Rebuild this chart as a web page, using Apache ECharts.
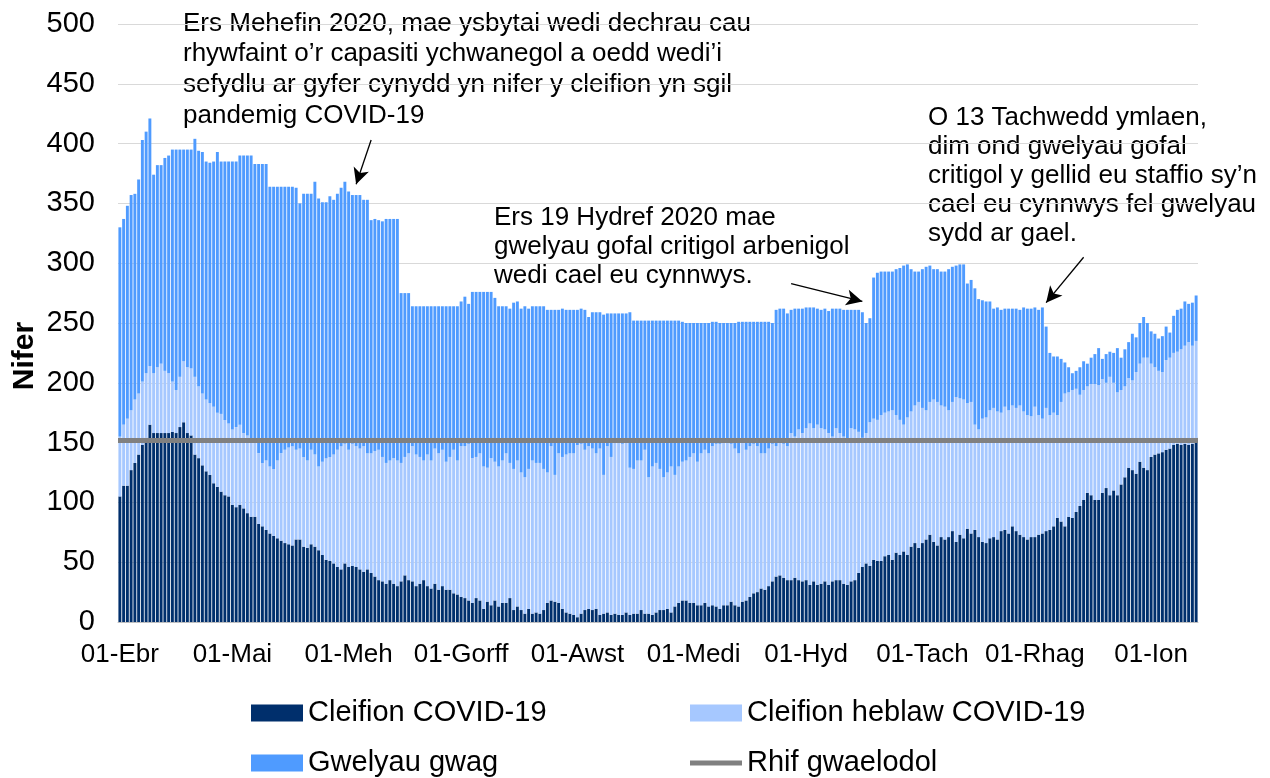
<!DOCTYPE html>
<html>
<head>
<meta charset="utf-8">
<script src="https://cdn.jsdelivr.net/npm/echarts@6/dist/echarts.min.js"></script>
<style>
  html, body { margin: 0; padding: 0; background: #fff; }
  #chart { width: 1270px; height: 778px; }
</style>
</head>
<body>
<div id="chart"></div>
<script>
// Welsh month abbreviations, day 0 = 01-Ebr 2020
const monthNames = ['Ion', 'Chwef', 'Maw', 'Ebr', 'Mai', 'Meh', 'Gorff', 'Awst', 'Medi', 'Hyd', 'Tach', 'Rhag']

// Cleifion COVID-19
const covid = [
  105, 114, 114, 127, 133, 140, 148, 154, 165, 158,
  158, 158, 158, 158, 159, 158, 163, 167, 158, 156,
  140, 137, 131, 126, 123, 116, 113, 109, 106, 105,
  98, 96, 98, 95, 91, 88, 88, 82, 80, 77,
  74, 72, 70, 68, 66, 65, 64, 69, 69, 63,
  62, 65, 63, 60, 56, 52, 51, 49, 46, 44,
  49, 46, 47, 46, 44, 42, 44, 41, 38, 35,
  34, 32, 35, 32, 30, 34, 39, 35, 34, 30,
  32, 35, 30, 28, 32, 27, 30, 27, 27, 24,
  23, 21, 20, 18, 16, 20, 18, 11, 17, 14,
  18, 13, 16, 16, 20, 10, 13, 10, 7, 11,
  7, 8, 7, 10, 16, 18, 17, 16, 11, 8,
  7, 6, 4, 7, 10, 11, 10, 11, 6, 7,
  8, 6, 7, 6, 6, 8, 6, 7, 7, 10,
  7, 7, 6, 8, 10, 10, 11, 8, 13, 16,
  18, 18, 16, 16, 14, 14, 16, 13, 14, 13,
  11, 14, 14, 17, 14, 13, 17, 18, 21, 24,
  25, 28, 27, 30, 34, 38, 39, 37, 35, 35,
  37, 35, 34, 35, 31, 34, 31, 32, 34, 31,
  34, 35, 35, 32, 31, 34, 35, 41, 46, 49,
  47, 52, 51, 51, 55, 56, 52, 58, 56, 59,
  56, 63, 66, 62, 66, 69, 73, 67, 64, 71,
  69, 71, 76, 67, 73, 70, 78, 74, 77, 71,
  67, 66, 70, 71, 69, 76, 77, 74, 80, 76,
  73, 71, 69, 71, 71, 73, 74, 76, 77, 80,
  87, 84, 80, 88, 87, 92, 97, 102, 108, 106,
  102, 102, 108, 112, 106, 110, 106, 115, 121, 129,
  127, 124, 134, 129, 127, 138, 140, 141, 142, 144,
  145, 148, 149, 148, 149, 148, 149, 154
]

// Cleifion heblaw COVID-19
const nonCovid = [
  50, 51, 56, 50, 53, 51, 53, 54, 49, 50,
  55, 58, 52, 50, 42, 36, 42, 51, 55, 56,
  65, 60, 60, 60, 60, 64, 62, 65, 63, 61,
  63, 67, 67, 63, 65, 64, 62, 59, 53, 58,
  56, 56, 65, 73, 78, 81, 83, 75, 76, 75,
  73, 79, 77, 70, 78, 85, 87, 91, 98, 103,
  100, 98, 102, 101, 101, 105, 97, 100, 105, 109,
  104, 101, 100, 105, 105, 99, 99, 106, 113, 110,
  106, 100, 110, 107, 113, 114, 114, 107, 111, 120,
  112, 126, 127, 131, 121, 118, 123, 119, 112, 123,
  116, 117, 119, 125, 113, 118, 122, 115, 114, 117,
  128, 125, 126, 118, 109, 129, 106, 125, 127, 132,
  134, 135, 144, 142, 134, 136, 135, 130, 139, 116,
  139, 132, 144, 145, 143, 142, 123, 121, 128, 125,
  137, 114, 124, 125, 118, 111, 114, 122, 110, 114,
  116, 117, 122, 125, 120, 127, 128, 128, 133, 136,
  138, 136, 137, 132, 131, 128, 134, 126, 126, 125,
  122, 113, 114, 115, 115, 109, 112, 112, 112, 123,
  118, 126, 124, 127, 135, 128, 134, 130, 127, 127,
  121, 127, 123, 123, 120, 128, 126, 118, 108, 109,
  120, 118, 118, 122, 120, 120, 125, 115, 113, 106,
  115, 113, 115, 122, 113, 108, 111, 119, 120, 110,
  111, 106, 108, 121, 114, 116, 105, 110, 88, 90,
  103, 105, 107, 108, 107, 99, 103, 103, 101, 103,
  108, 105, 104, 101, 109, 100, 96, 103, 96, 95,
  86, 100, 111, 104, 107, 103, 93, 92, 89, 93,
  97, 96, 95, 88, 99, 90, 86, 79, 76, 75,
  75, 85, 82, 92, 94, 78, 73, 69, 67, 75,
  76, 77, 77, 80, 82, 86, 82, 81
]

// Gwelyau gwag
const emptyBeds = [
  175, 172, 178, 180, 172, 179, 202, 202, 207, 166,
  169, 166, 178, 182, 194, 201, 190, 177, 182, 183,
  199, 197, 202, 199, 201, 205, 218, 211, 216, 219,
  224, 222, 225, 232, 234, 238, 233, 242, 250, 248,
  234, 236, 229, 223, 220, 218, 217, 219, 205, 220,
  223, 214, 228, 224, 217, 214, 218, 213, 214, 216,
  219, 216, 208, 210, 212, 206, 212, 195, 194, 192,
  197, 204, 202, 200, 202, 142, 137, 134, 117, 124,
  126, 129, 124, 129, 119, 123, 120, 130, 126, 120,
  129, 121, 125, 117, 139, 138, 135, 146, 147, 139,
  137, 134, 129, 123, 129, 139, 133, 137, 143, 134,
  129, 131, 131, 136, 136, 114, 138, 120, 124, 121,
  120, 120, 113, 113, 117, 108, 114, 118, 114, 134,
  111, 120, 107, 107, 109, 108, 130, 124, 117, 117,
  108, 131, 122, 119, 124, 131, 127, 122, 129, 122,
  117, 115, 112, 109, 116, 109, 106, 109, 104, 102,
  101, 100, 99, 101, 105, 110, 100, 107, 104, 102,
  104, 110, 110, 106, 101, 114, 111, 113, 111, 103,
  107, 101, 104, 101, 97, 101, 97, 99, 101, 102,
  107, 100, 104, 106, 110, 99, 100, 102, 105, 92,
  87, 118, 123, 120, 118, 117, 116, 122, 127, 133,
  128, 119, 112, 109, 116, 120, 114, 109, 111, 112,
  113, 118, 113, 110, 112, 113, 100, 102, 114, 109,
  99, 97, 91, 83, 87, 86, 82, 85, 81, 83,
  80, 87, 89, 90, 83, 88, 93, 68, 52, 47,
  49, 36, 26, 21, 14, 15, 23, 24, 19, 22,
  25, 31, 17, 24, 21, 25, 37, 27, 31, 30,
  39, 29, 34, 34, 29, 27, 28, 27, 30, 28,
  21, 31, 35, 34, 37, 32, 36, 38
]

// Rhif gwaelodol
const baseline = 152

// dyddiadau 01-Ebr 2020 ymlaen
const categories = covid.map((_, i) => {
  const d = new Date(Date.UTC(2020, 3, 1 + i))
  return String(d.getUTCDate()).padStart(2, '0') + '-' + monthNames[d.getUTCMonth()]
})

// annotations: arrow from [dayIndex, value] to [dayIndex, value]
const arrows = [
  { from: [67, 403], to: [63, 366] },
  { from: [179, 283], to: [198, 268] },
  { from: [257, 305], to: [247, 267] }
]

const notes = [
  { x: 183, y: 8, lh: 30.7, text: 'Ers Mehefin 2020, mae ysbytai wedi dechrau cau\nrhywfaint o\u2019r capasiti ychwanegol a oedd wedi\u2019i\nsefydlu ar gyfer cynydd yn nifer y cleifion yn sgil\npandemig COVID-19' },
  { x: 494, y: 203, lh: 29, text: 'Ers 19 Hydref 2020 mae\ngwelyau gofal critigol arbenigol\nwedi cael eu cynnwys.' },
  { x: 928, y: 103, lh: 29, text: 'O 13 Tachwedd ymlaen,\ndim ond gwelyau gofal\ncritigol y gellid eu staffio sy\u2019n\ncael eu cynnwys fel gwelyau\nsydd ar gael.' }
]

const font = '"Liberation Sans", Arial, sans-serif'
const isMonthStart = (index, value) => value.indexOf('01-') === 0

// one legend per item, laid out 2 x 2
const legendItem = (name, left, top, icon) => ({
  left: left, top: top, orient: 'horizontal',
  itemWidth: 52, itemHeight: 17, icon: icon,
  textStyle: { fontSize: 29, color: '#000', lineHeight: 30, fontFamily: font },
  selectedMode: false,
  data: [name]
})

const chart = echarts.init(document.getElementById('chart'))

const option = {
  animation: false,
  textStyle: { fontFamily: font },
  grid: { left: 118, right: 72, top: 24, bottom: 156 },
  legend: [
    legendItem('Cleifion COVID-19', 246, 693, 'rect'),
    legendItem('Gwelyau gwag', 246, 743, 'rect'),
    legendItem('Cleifion heblaw COVID-19', 685, 693, 'rect'),
    legendItem('Rhif gwaelodol', 685, 743, 'path://M0,0 L52,0 L52,5 L0,5 Z')
  ],
  xAxis: {
    type: 'category',
    data: categories,
    axisLine: { lineStyle: { color: '#bfbfbf' } },
    axisTick: { alignWithLabel: true, interval: isMonthStart, length: 6, lineStyle: { color: '#bfbfbf' } },
    axisLabel: { interval: isMonthStart, margin: 20, fontSize: 26, color: '#000', fontFamily: font }
  },
  yAxis: {
    type: 'value',
    min: 0, max: 500, interval: 50,
    axisLine: { show: false },
    axisTick: { show: false },
    splitLine: { lineStyle: { color: '#d9d9d9' } },
    axisLabel: { margin: 23, fontSize: 29, color: '#000', fontFamily: font }
  },
  series: [
    {
      name: 'Cleifion COVID-19', type: 'bar', stack: 'beds', data: covid,
      barCategoryGap: '22%', itemStyle: { color: '#002f6c' }, silent: true
    },
    {
      name: 'Cleifion heblaw COVID-19', type: 'bar', stack: 'beds', data: nonCovid,
      itemStyle: { color: '#a6c8ff' }, silent: true
    },
    {
      name: 'Gwelyau gwag', type: 'bar', stack: 'beds', data: emptyBeds,
      itemStyle: { color: '#4f9bff' }, silent: true
    },
    {
      name: 'Rhif gwaelodol', type: 'line', data: [], symbol: 'none',
      lineStyle: { color: '#808080', width: 5 }, itemStyle: { color: '#808080' },
      markLine: {
        silent: true, symbol: 'none', label: { show: false },
        lineStyle: { color: '#808080', width: 5, type: 'solid' },
        data: [{ yAxis: baseline }]
      }
    },
    {
      name: 'saethau', type: 'line', data: [], symbol: 'none',
      markLine: {
        silent: true, symbol: ['none', 'arrow'], symbolSize: [12, 16],
        label: { show: false },
        lineStyle: { color: '#000', width: 1.3, type: 'solid' },
        data: arrows.map(a => [
          { coord: [categories[a.from[0]], a.from[1]] },
          { coord: [categories[a.to[0]], a.to[1]] }
        ])
      }
    }
  ],
  graphic: notes.map(n => ({
    type: 'text', left: n.x, top: n.y, silent: true,
    style: { text: n.text, font: '26px ' + font, fill: '#000', lineHeight: n.lh }
  })).concat([{
    type: 'text', x: 25, y: 356, rotation: Math.PI / 2, silent: true,
    style: { text: 'Nifer', font: 'bold 30px ' + font, fill: '#000', align: 'center', verticalAlign: 'middle' }
  }])
}

chart.setOption(option)
</script>
</body>
</html>
